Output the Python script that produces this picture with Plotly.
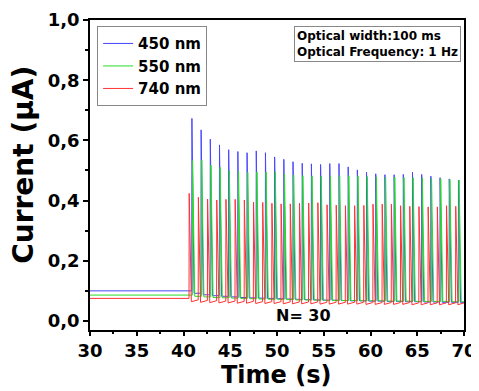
import plotly.graph_objects as go

# ---------------- data ----------------
n_pulses = 30
period = 0.983  # s between pulse onsets (1 Hz nominal)
blue_start, green_start, red_start = 40.88, 40.95, 40.59
pulse_width = 0.22

blue_pre = 0.100
green_pre = 0.086
red_pre = 0.075

blue_peaks = [0.673, 0.635, 0.604, 0.585, 0.569, 0.563, 0.559, 0.565, 0.559, 0.545,
              0.537, 0.529, 0.524, 0.522, 0.520, 0.523, 0.523, 0.512, 0.502, 0.494,
              0.489, 0.486, 0.486, 0.487, 0.494, 0.487, 0.481, 0.476, 0.472, 0.468]
green_peaks = [0.533, 0.535, 0.518, 0.510, 0.500, 0.497, 0.494, 0.495, 0.494, 0.496,
               0.489, 0.485, 0.483, 0.482, 0.481, 0.482, 0.483, 0.483, 0.482, 0.480,
               0.479, 0.478, 0.478, 0.477, 0.476, 0.476, 0.474, 0.472, 0.470, 0.468]
red_peaks = [0.424, 0.411, 0.405, 0.402, 0.404, 0.404, 0.402, 0.395, 0.394, 0.391,
             0.389, 0.389, 0.391, 0.392, 0.393, 0.386, 0.385, 0.383, 0.383, 0.384,
             0.388, 0.388, 0.388, 0.383, 0.381, 0.380, 0.379, 0.379, 0.383, 0.381]

blue_after = [0.092, 0.087, 0.084, 0.082, 0.080, 0.078, 0.077, 0.076, 0.075, 0.074,
              0.073, 0.072, 0.071, 0.070, 0.069, 0.069, 0.068, 0.067, 0.067, 0.066,
              0.066, 0.065, 0.065, 0.064, 0.064, 0.063, 0.063, 0.062, 0.062, 0.061]
green_after = [0.082, 0.080, 0.078, 0.077, 0.076, 0.075, 0.074, 0.073, 0.072, 0.072,
               0.071, 0.070, 0.070, 0.069, 0.069, 0.068, 0.068, 0.068, 0.067, 0.067,
               0.067, 0.066, 0.066, 0.066, 0.065, 0.065, 0.065, 0.065, 0.064, 0.064]
red_after = [0.070, 0.068, 0.067, 0.066, 0.066, 0.065, 0.065, 0.064, 0.064, 0.064,
             0.063, 0.063, 0.063, 0.063, 0.062, 0.062, 0.062, 0.062, 0.062, 0.061,
             0.061, 0.061, 0.061, 0.061, 0.060, 0.060, 0.060, 0.060, 0.060, 0.060]
red_dip = 0.006

t_begin, t_end = 30.0, 70.0


def waveform(start, pre, peaks, after, dip=0.0):
    xs, ys = [t_begin], [pre]
    prev = pre
    for i in range(n_pulses):
        t0 = start + i * period
        xs += [t0, t0 + 0.02, t0 + pulse_width, t0 + pulse_width + 0.03]
        ys += [prev, peaks[i], after[i] - dip, after[i] - dip]
        nxt = start + (i + 1) * period - 0.02
        if nxt > t_end:
            nxt = t_end
        xs.append(nxt)
        ys.append(after[i])
        prev = after[i]
    if xs[-1] < t_end:
        xs.append(t_end)
        ys.append(prev)
    return xs, ys


bx, by = waveform(blue_start, blue_pre, blue_peaks, blue_after)
gx, gy = waveform(green_start, green_pre, green_peaks, green_after)
rx, ry = waveform(red_start, red_pre, red_peaks, red_after, red_dip)

FONT = "DejaVu Sans"

fig = go.Figure()
fig.add_trace(go.Scatter(x=bx, y=by, mode="lines", name="450 nm",
                         line=dict(color="rgb(70,70,255)", width=1)))
fig.add_trace(go.Scatter(x=gx, y=gy, mode="lines", name="550 nm",
                         line=dict(color="rgb(40,220,40)", width=1)))
fig.add_trace(go.Scatter(x=rx, y=ry, mode="lines", name="740 nm",
                         line=dict(color="rgb(255,50,50)", width=1)))

tickfont = dict(family=FONT, size=18, color="black", weight="bold")

# the page body adds an 8px offset, so the figure is 8px smaller each way
fig.update_layout(
    width=471, height=383,
    margin=dict(l=82, r=15, t=12, b=61, autoexpand=False),
    paper_bgcolor="white", plot_bgcolor="white",
    separators=",.",
    showlegend=True,
    legend=dict(x=0.019, y=0.98, xanchor="left", yanchor="top",
                bordercolor="#888888", borderwidth=1, bgcolor="white",
                font=dict(family=FONT, size=15, color="black", weight="bold"),
                tracegroupgap=0, itemwidth=30),
    xaxis=dict(range=[30, 70], dtick=5, tick0=30, ticks="outside", ticklen=4,
               tickwidth=1.5, tickcolor="black", automargin=False,
               minor=dict(dtick=2.5, ticks="outside", ticklen=2, tickcolor="black"),
               showline=True, linecolor="black", linewidth=1.5, mirror=True,
               showgrid=False, zeroline=False, tickfont=tickfont),
    yaxis=dict(range=[-0.03, 1.0], dtick=0.2, tick0=0, tickformat=".1f",
               ticks="outside", ticklen=5, tickwidth=1.5, tickcolor="black",
               automargin=False,
               minor=dict(dtick=0.1, ticks="outside", ticklen=3, tickcolor="black"),
               showline=True, linecolor="black", linewidth=1.5, mirror=True,
               showgrid=False, zeroline=False, tickfont=tickfont),
    xaxis2=dict(range=[30, 70], dtick=5, tick0=30, overlaying="x", side="top",
                anchor="y", ticks="inside", ticklen=5, tickwidth=1.5, tickcolor="black",
                automargin=False,
                minor=dict(dtick=2.5, ticks="inside", ticklen=3, tickcolor="black"),
                showticklabels=False, showgrid=False, zeroline=False, showline=False),
    yaxis2=dict(range=[-0.03, 1.0], dtick=0.2, tick0=0, overlaying="y", side="right",
                anchor="x", ticks="inside", ticklen=5, tickwidth=1.5, tickcolor="black",
                automargin=False,
                minor=dict(dtick=0.1, ticks="inside", ticklen=3, tickcolor="black"),
                showticklabels=False, showgrid=False, zeroline=False, showline=False),
)

fig.add_annotation(xref="paper", yref="paper", x=0.992, y=0.98,
                   xanchor="right", yanchor="top", align="left",
                   text="<b>Optical width:100 ms</b><br><b>Optical Frequency: 1 Hz</b>",
                   showarrow=False, bordercolor="#888888", borderwidth=1, borderpad=2,
                   bgcolor="white",
                   font=dict(family=FONT, size=12, color="black"))
fig.add_annotation(xref="paper", yref="paper", x=0.57, y=0.048,
                   xanchor="center", yanchor="middle",
                   text="<b>N= 30</b>", showarrow=False,
                   font=dict(family=FONT, size=16, color="black"))
# axis titles
fig.add_annotation(xref="paper", yref="paper", x=0.497, y=-0.146,
                   xanchor="center", yanchor="middle", borderpad=0,
                   text="<b>Time (s)</b>", showarrow=False,
                   font=dict(family=FONT, size=24, color="black"))
fig.add_annotation(xref="paper", yref="paper", x=-0.18, y=0.532,
                   xanchor="center", yanchor="middle", textangle=-90,
                   text="<b>Current (μA)</b>", showarrow=False,
                   font=dict(family=FONT, size=28, color="black"))

fig.write_html("out.html")
